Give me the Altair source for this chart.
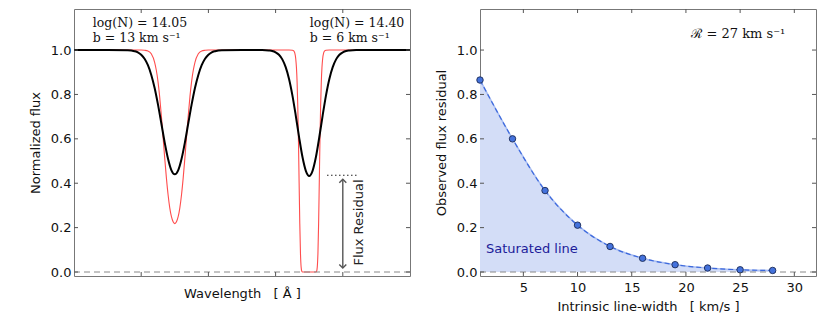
import altair as alt
import pandas as pd

# ---------------- data ----------------
black_wave = [0.0, 1.0, 1.6, 1.8, 1.9, 2.0, 2.1, 2.2, 2.3, 2.4, 2.5, 2.6, 2.7, 2.8, 2.9,
              3.0, 3.1, 3.2, 3.3, 3.4, 3.5, 3.6, 3.7, 3.8, 3.9, 4.0, 4.1, 4.2, 4.4, 5.0,
              5.6, 5.8, 5.9, 6.0, 6.1, 6.2, 6.3, 6.4, 6.5, 6.6, 6.7, 6.8, 6.9, 7.0, 7.1,
              7.2, 7.3, 7.4, 7.5, 7.6, 7.7, 7.8, 7.9, 8.0, 8.1, 8.2, 8.4, 9.0, 10.0]
black_flux = [1.0, 1.0, 0.999, 0.995, 0.990, 0.979, 0.961, 0.932, 0.888, 0.829, 0.754, 0.669, 0.583, 0.509, 0.458,
              0.440, 0.458, 0.509, 0.583, 0.669, 0.754, 0.829, 0.888, 0.932, 0.961, 0.979, 0.990, 0.995, 0.999, 1.0,
              1.0, 0.998, 0.996, 0.990, 0.979, 0.958, 0.923, 0.870, 0.796, 0.705, 0.607, 0.518, 0.456, 0.433, 0.456,
              0.518, 0.607, 0.705, 0.796, 0.870, 0.923, 0.958, 0.979, 0.990, 0.996, 0.998, 1.0, 1.0, 1.0]

red_wave = [0.0, 2.0, 2.1, 2.2, 2.3, 2.4, 2.45, 2.5, 2.55, 2.6, 2.65, 2.7, 2.75, 2.8, 2.85, 2.9, 2.95,
            3.0, 3.05, 3.1, 3.15, 3.2, 3.25, 3.3, 3.35, 3.4, 3.45, 3.5, 3.55, 3.6, 3.7, 3.8, 3.9, 4.0,
            6.4, 6.5, 6.54, 6.57, 6.60, 6.62, 6.64, 6.66, 6.68, 6.70, 6.72, 6.74, 6.76, 6.78, 6.80, 6.85,
            7.0, 7.15, 7.20, 7.22, 7.24, 7.26, 7.28, 7.30, 7.32, 7.34, 7.36, 7.38, 7.40, 7.43, 7.46, 7.5,
            7.6, 10.0]
red_flux = [1.0, 1.0, 0.999, 0.996, 0.983, 0.945, 0.909, 0.858, 0.789, 0.704, 0.610, 0.513, 0.424, 0.348, 0.289, 0.249, 0.226,
            0.218, 0.226, 0.249, 0.289, 0.348, 0.424, 0.513, 0.610, 0.704, 0.789, 0.858, 0.909, 0.945, 0.983, 0.996, 0.999, 1.0,
            1.0, 0.999, 0.996, 0.987, 0.960, 0.922, 0.855, 0.747, 0.592, 0.403, 0.218, 0.085, 0.022, 0.003, 0.0, 0.0,
            0.0, 0.0, 0.0, 0.003, 0.022, 0.085, 0.218, 0.403, 0.592, 0.747, 0.855, 0.922, 0.960, 0.987, 0.996, 0.999,
            1.0, 1.0]

line_labels_x = [0.56, 0.56, 7.02, 7.02]
line_labels_y = [1.121, 1.054, 1.121, 1.054]
line_labels = ["log(N) = 14.05", "b = 13 km s\u207b\u00b9", "log(N) = 14.40", "b = 6 km s\u207b\u00b9"]

residual_level = 0.436
residual_span_x = [7.53, 8.47]
arrow_x = 8.0
arrow_tips = [0.018, 0.418]
residual_text_x = 8.48
residual_text_y = 0.223

intrinsic_b = [1, 4, 7, 10, 13, 16, 19, 22, 25, 28]
observed_residual = [0.865, 0.600, 0.367, 0.211, 0.115, 0.062, 0.033, 0.018, 0.010, 0.007]

left_xticks = [2, 4, 6, 8]
y_ticks = [0.0, 0.2, 0.4, 0.6, 0.8, 1.0]
right_xticks = [5, 10, 15, 20, 25, 30]

# ---------------- styling ----------------
W, H = 336, 267
YDOM = [-0.018, 1.185]
TICK = "#555555"
FRAME = "#777777"
TL = 4
SANS = "DejaVu Sans"
SERIF = "DejaVu Serif"
NB = "\u00a0"

xl = alt.Scale(domain=[0, 10], nice=False, zero=False)
xr = alt.Scale(domain=[1, 32], nice=False, zero=False)
ys = alt.Scale(domain=YDOM, nice=False, zero=False)

xax_left = alt.Axis(title="Wavelength" + NB * 3 + "[" + NB + "Å" + NB + "]", labels=False, ticks=False,
                    domain=False, grid=False, titlePadding=11)
xax_right = alt.Axis(title="Intrinsic line-width" + NB * 3 + "[" + NB + "km/s" + NB + "]", values=right_xticks,
                     ticks=False, domain=False, grid=False, labelPadding=5, titlePadding=6)
yax_left = alt.Axis(title="Normalized flux", values=y_ticks, format=".1f", ticks=False,
                    domain=False, grid=False, labelPadding=3, titlePadding=8)
yax_right = alt.Axis(title="Observed flux residual", values=y_ticks, format=".1f", ticks=False,
                     domain=False, grid=False, labelPadding=3, titlePadding=8)


def inner_ticks(xscale, xaxis, yaxis, xt):
    xdf = pd.DataFrame({"t": xt})
    ydf = pd.DataFrame({"t": y_ticks})
    rule = dict(color=TICK, strokeWidth=1)
    bx = alt.Chart(xdf).mark_rule(**rule).encode(
        x=alt.X("t:Q", scale=xscale, axis=xaxis), y=alt.value(H), y2=alt.value(H - TL))
    tx = alt.Chart(xdf).mark_rule(**rule).encode(
        x=alt.X("t:Q", scale=xscale, axis=xaxis), y=alt.value(0), y2=alt.value(TL))
    ly = alt.Chart(ydf).mark_rule(**rule).encode(
        y=alt.Y("t:Q", scale=ys, axis=yaxis), x=alt.value(0), x2=alt.value(TL))
    ry = alt.Chart(ydf).mark_rule(**rule).encode(
        y=alt.Y("t:Q", scale=ys, axis=yaxis), x=alt.value(W), x2=alt.value(W - TL))
    return [bx, tx, ly, ry]


# ---------------- left panel ----------------
black_df = pd.DataFrame({"wave": black_wave, "flux": black_flux})
red_df = pd.DataFrame({"wave": red_wave, "flux": red_flux})


def XL(f):
    return alt.X(f, scale=xl, axis=xax_left)


def YL(f):
    return alt.Y(f, scale=ys, axis=yax_left)


red_line = alt.Chart(red_df).mark_line(color="#ff4d4d", strokeWidth=1.1, interpolate="monotone").encode(
    x=XL("wave:Q"), y=YL("flux:Q"))
black_line = alt.Chart(black_df).mark_line(color="black", strokeWidth=2, interpolate="monotone").encode(
    x=XL("wave:Q"), y=YL("flux:Q"))

zero_left = alt.Chart(pd.DataFrame({"z": [0.0]})).mark_rule(
    color="#888888", strokeDash=[6, 4], strokeWidth=1).encode(y=YL("z:Q"))

dotted = alt.Chart(pd.DataFrame({"x1": [residual_span_x[0]], "x2": [residual_span_x[1]],
                                 "y": [residual_level]})).mark_rule(
    color="#222222", strokeDash=[1.5, 2.5], strokeWidth=1.2).encode(
    x=XL("x1:Q"), x2="x2:Q", y=YL("y:Q"))

shaft = alt.Chart(pd.DataFrame({"x": [arrow_x], "y1": [arrow_tips[0]], "y2": [arrow_tips[1]]})).mark_rule(
    color="#555555", strokeWidth=1.4).encode(x=XL("x:Q"), y=YL("y1:Q"), y2="y2:Q")
head_up = alt.Chart(pd.DataFrame({"x": [arrow_x], "y": [arrow_tips[1]]})).mark_point(
    shape="M-1,1L0,0L1,1", filled=False, size=49, color="#555555", strokeWidth=1.4, opacity=1).encode(
    x=XL("x:Q"), y=YL("y:Q"))
head_down = alt.Chart(pd.DataFrame({"x": [arrow_x], "y": [arrow_tips[0]]})).mark_point(
    shape="M-1,-1L0,0L1,-1", filled=False, size=49, color="#555555", strokeWidth=1.4, opacity=1).encode(
    x=XL("x:Q"), y=YL("y:Q"))

res_text = alt.Chart(pd.DataFrame({"x": [residual_text_x], "y": [residual_text_y],
                                   "t": ["Flux Residual"]})).mark_text(
    angle=270, align="center", baseline="middle", font=SANS, fontSize=13, color="#222222").encode(
    x=XL("x:Q"), y=YL("y:Q"), text="t:N")

labels_left = alt.Chart(pd.DataFrame({"x": line_labels_x, "y": line_labels_y, "t": line_labels})).mark_text(
    align="left", baseline="middle", font=SERIF, fontSize=12.5, color="#111111").encode(
    x=XL("x:Q"), y=YL("y:Q"), text="t:N")

left = alt.layer(red_line, black_line, zero_left, dotted, shaft, head_up, head_down, res_text,
                 labels_left, *inner_ticks(xl, xax_left, yax_left, left_xticks)).properties(width=W, height=H)

# ---------------- right panel ----------------
res_df = pd.DataFrame({"b": intrinsic_b, "r": observed_residual})


def XR(f):
    return alt.X(f, scale=xr, axis=xax_right)


def YR(f):
    return alt.Y(f, scale=ys, axis=yax_right)


area = alt.Chart(res_df).mark_area(color="#d3ddf7", opacity=1, interpolate="monotone").encode(
    x=XR("b:Q"), y=YR("r:Q"), y2=alt.datum(0))
edge = alt.Chart(res_df).mark_line(color="#a9bef2", strokeWidth=1.6, interpolate="monotone").encode(
    x=XR("b:Q"), y=YR("r:Q"))
dash = alt.Chart(res_df).mark_line(color="#3c68dc", strokeWidth=1.2, strokeDash=[5, 3],
                                   interpolate="monotone").encode(x=XR("b:Q"), y=YR("r:Q"))
pts = alt.Chart(res_df).mark_point(filled=True, size=42, fill="#4472dc", stroke="#1c2b57",
                                   strokeWidth=0.9, opacity=1).encode(x=XR("b:Q"), y=YR("r:Q"))
zero_right = alt.Chart(pd.DataFrame({"z": [0.0]})).mark_rule(
    color="#888888", strokeDash=[6, 4], strokeWidth=1).encode(y=YR("z:Q"))

sat_text = alt.Chart(pd.DataFrame({"x": [1.55], "y": [0.104], "t": ["Saturated line"]})).mark_text(
    align="left", baseline="middle", font=SANS, fontSize=13, color="#1c1c9a").encode(
    x=XR("x:Q"), y=YR("y:Q"), text="t:N")
res_label = alt.Chart(pd.DataFrame({"x": [20.5], "y": [1.072], "t": ["\u211b = 27 km s\u207b\u00b9"]})).mark_text(
    align="left", baseline="middle", font=SERIF, fontSize=13, color="#111111").encode(
    x=XR("x:Q"), y=YR("y:Q"), text="t:N")

right = alt.layer(area, edge, dash, zero_right, pts, sat_text, res_label,
                  *inner_ticks(xr, xax_right, yax_right, right_xticks)).properties(width=W, height=H)

chart = alt.hconcat(left, right, spacing=19).properties(
    padding={"left": 20, "top": 0, "right": 0, "bottom": 0}
).configure_view(stroke=FRAME, strokeWidth=1).configure_axis(
    grid=False, ticks=False, domain=False,
    labelFont=SANS, labelFontSize=13, labelColor="#111111",
    titleFont=SANS, titleFontSize=13, titleFontWeight="normal", titleColor="#111111",
)

chart.save("out.html", embed_options={"renderer": "svg", "actions": False})
